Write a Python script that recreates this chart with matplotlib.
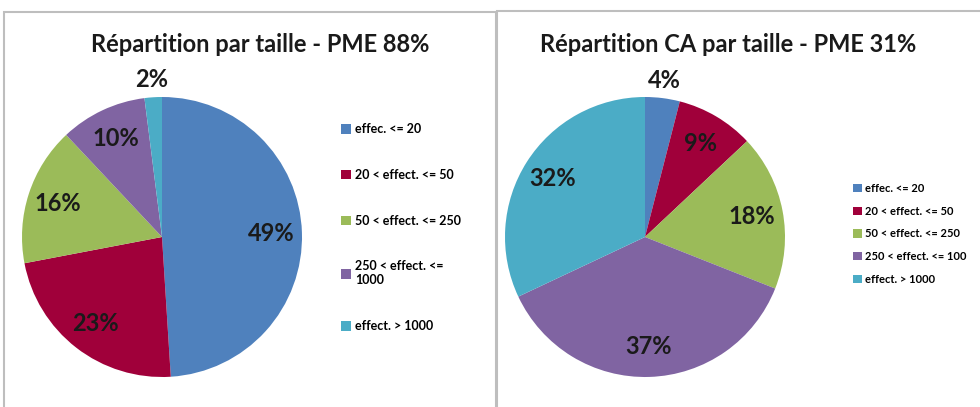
import numpy as np
import matplotlib
matplotlib.use("Agg")
import matplotlib.pyplot as plt
from matplotlib.patches import Rectangle

plt.rcParams['font.family'] = ['Lato', 'DejaVu Sans']

# data
categories_left = ["effec. <= 20", "20 < effect. <= 50", "50 < effect. <= 250",
                   "250 < effect. <=\n1000", "effect. > 1000"]
categories_right = ["effec. <= 20", "20 < effect. <= 50", "50 < effect. <= 250",
                    "250 < effect. <= 100", "effect. > 1000"]
pme_share = [49, 23, 16, 10, 2]
ca_share = [4, 9, 18, 37, 32]
colors = ["#4F81BD", "#A0003A", "#9BBB59", "#8064A2", "#4BACC6"]

W, H = 980, 407
fig = plt.figure(figsize=(W / 100, H / 100), dpi=100)

# panel borders
fig.patches.append(Rectangle((4 / W, -0.1), 492 / W, (H - 12) / H + 0.1,
                             transform=fig.transFigure, fill=False,
                             edgecolor="#BEBEBE", lw=1.5))
fig.patches.append(Rectangle((497 / W, -0.1), 0.6, (H - 11) / H + 0.1,
                             transform=fig.transFigure, fill=False,
                             edgecolor="#BEBEBE", lw=1.5))


def draw_pie(ax, values):
    wedges, _ = ax.pie(values, colors=colors, startangle=90, counterclock=False,
                       radius=1, wedgeprops=dict(linewidth=0))
    for w, v in zip(wedges, values):
        mid = np.deg2rad((w.theta1 + w.theta2) / 2)
        d = 1.13 if v < 5 else 0.78
        ax.text(d * np.cos(mid), d * np.sin(mid), f"{v}%", ha="center", va="center",
                fontsize=17, fontweight="bold", color="#1a1a1a")
    ax.set_xlim(-1, 1)
    ax.set_ylim(-1, 1)
    ax.set_aspect("equal")
    ax.axis("off")
    return wedges


ax1 = fig.add_axes([22 / W, 30 / H, 280 / W, 280 / H])
w1 = draw_pie(ax1, pme_share)
ax2 = fig.add_axes([505 / W, 30 / H, 280 / W, 280 / H])
w2 = draw_pie(ax2, ca_share)

fig.text(260 / W, 1 - 45 / H, "Répartition par taille - PME 88%", ha="center",
         va="center", fontsize=17, fontweight="bold", color="#1a1a1a")
fig.text(728 / W, 1 - 45 / H, "Répartition CA par taille - PME 31%", ha="center",
         va="center", fontsize=17, fontweight="bold", color="#1a1a1a")

fig.legend(w1, categories_left, loc="upper left", bbox_to_anchor=(330 / W, 1 - 112 / H),
           frameon=False, handlelength=0.8, handleheight=0.8,
           handletextpad=0.3, labelspacing=2.7, prop=dict(weight="bold", size=9))
fig.legend(w2, categories_right, loc="upper left", bbox_to_anchor=(843 / W, 1 - 173 / H),
           frameon=False, handlelength=0.8, handleheight=0.8,
           handletextpad=0.3, labelspacing=1.05, prop=dict(weight="bold", size=8))

fig.savefig("out.png", dpi=100)
